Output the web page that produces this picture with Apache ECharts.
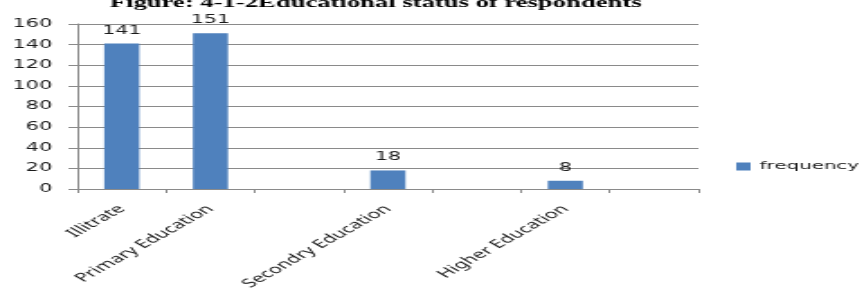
<!DOCTYPE html>
<html>
<head>
<meta charset="utf-8">
<script src="https://cdn.jsdelivr.net/npm/echarts@6/dist/echarts.min.js"></script>
<style>
  html, body { margin: 0; padding: 0; background: #fff; }
  #wrap { width: 862px; height: 289px; overflow: hidden; }
  /* the source picture is stretched sideways, so draw narrow and stretch */
  #chart { width: 479px; height: 289px; transform: scaleX(1.8); transform-origin: 0 0; }
</style>
</head>
<body>
<div id="wrap"><div id="chart"></div></div>
<script>
const titleText = 'Figure: 4-1-2Educational status of respondents'
const categories = ['Illitrate', 'Primary Education', '', 'Secondry Education', '', 'Higher Education', '']
const frequency = [141, 151, null, 18, null, 8, null]
const yTicks = { min: 0, max: 160, interval: 20 }

const gridColor = '#8a8a8a'
const textColor = '#1a1a1a'

const chart = echarts.init(document.getElementById('chart'), null, { renderer: 'canvas' })

chart.setOption({
  animation: false,
  title: {
    text: titleText,
    left: 61,
    top: -4,
    padding: 0,
    textStyle: { fontFamily: 'Liberation Serif', fontWeight: 'bold', fontSize: 14.8, color: '#000' }
  },
  legend: {
    data: ['frequency'],
    left: 404,
    top: 156,
    itemWidth: 8,
    itemHeight: 8,
    itemGap: 4,
    icon: 'rect',
    textStyle: { fontFamily: 'DejaVu Sans', fontSize: 11, color: textColor }
  },
  grid: { left: 43, right: 91, top: 24, bottom: 100, containLabel: false, outerBoundsMode: 'none' },
  xAxis: {
    type: 'category',
    data: categories,
    axisLine: { lineStyle: { color: gridColor, width: 1 } },
    axisTick: { show: true, length: 4, lineStyle: { color: gridColor } },
    axisLabel: {
      interval: 0,
      rotate: 45,
      margin: 18,
      fontFamily: 'Noto Sans',
      fontSize: 12,
      color: textColor
    }
  },
  yAxis: {
    type: 'value',
    min: yTicks.min,
    max: yTicks.max,
    interval: yTicks.interval,
    axisLine: { show: true, lineStyle: { color: gridColor, width: 1 } },
    axisTick: { show: true, length: 5, lineStyle: { color: gridColor } },
    axisLabel: { margin: 14, fontFamily: 'DejaVu Sans', fontSize: 11.5, color: textColor },
    splitLine: { lineStyle: { color: gridColor, width: 1 } }
  },
  series: [{
    name: 'frequency',
    type: 'bar',
    data: frequency,
    barWidth: 19.5,
    itemStyle: { color: '#4F81BD' },
    label: {
      show: true,
      position: 'top',
      distance: 7,
      fontFamily: 'DejaVu Sans',
      fontSize: 11.5,
      color: textColor
    }
  }]
})
</script>
</body>
</html>
